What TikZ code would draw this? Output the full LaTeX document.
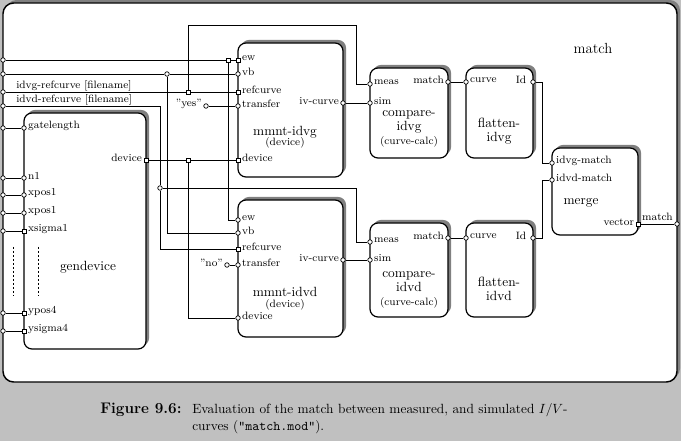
\documentclass[tikz,border=0pt]{standalone}
\usetikzlibrary{fit,shadows}
\definecolor{bggray}{HTML}{C0C0C0}
\definecolor{shadowgray}{HTML}{808080}

\begin{document}
\begin{tikzpicture}[x=0.75pt, y=-0.75pt,
    block/.style={draw, line width=0.9pt, rounded corners=6pt, fill=white, inner sep=0pt,
      drop shadow={shadow xshift=2.3pt, shadow yshift=2.3pt, fill=shadowgray, opacity=1}},
    cport/.style={circle, draw, fill=white, line width=0.5pt, inner sep=0pt, minimum size=3.4pt},
    sqport/.style={rectangle, draw, fill=white, line width=0.5pt, inner sep=0pt, minimum size=3.2pt},
    plabel/.style={font=\fontsize{8}{9}\selectfont, inner sep=1pt, yshift=1.6pt},
    wlabel/.style={font=\fontsize{8}{9}\selectfont, inner sep=0pt},
    wire/.style={line width=0.6pt},
    btitle/.style={font=\fontsize{10}{10.5}\selectfont, align=center, inner sep=0pt},
    bsub/.style={font=\fontsize{8}{9}\selectfont, inner sep=0pt}]

  % background and outer module
  \useasboundingbox (0,0) rectangle (681,441);
  \fill[bggray] (0,0) rectangle (681,441);
  \node (matchbox) [block, line width=1.1pt, rounded corners=8pt, fit={(3,3) (677,382)}] {};
  \node (title) [font=\fontsize{11}{13}\selectfont] at (593,48) {match};

  % blocks
  \node (gendev) [block, fit={(24,113) (146,349)}] {};
  \node (mmntg) [block, fit={(238,43) (343,177)}] {};
  \node (mmntd) [block, fit={(238,200) (343,337)}] {};
  \node (cmpg) [block, fit={(370,68) (448,158)}] {};
  \node (cmpd) [block, fit={(370,223) (448,317)}] {};
  \node (flatg) [block, fit={(466,68) (533,158)}] {};
  \node (flatd) [block, fit={(466,223) (533,317)}] {};
  \node (merge) [block, fit={(552,148) (638,235)}] {};

  \node (gendevlab) [font=\fontsize{10}{12}\selectfont] at (88,267) {gendevice};
  \node (mmntglab) [btitle] at (285,132) {mmnt-idvg};
  \node (mmntgsub) [bsub] at (285,143) {(device)};
  \node (mmntdlab) [btitle] at (285,292) {mmnt-idvd};
  \node (mmntdsub) [bsub] at (285,305) {(device)};
  \node (cmpglab) [btitle] at (409,122) {compare-\\idvg};
  \node (cmpgsub) [bsub] at (409,142) {(curve-calc)};
  \node (cmpdlab) [btitle] at (409,282) {compare-\\idvd};
  \node (cmpdsub) [bsub] at (409,303) {(curve-calc)};
  \node (flatglab) [btitle] at (499,131) {flatten-\\idvg};
  \node (flatdlab) [btitle] at (499,289) {flatten-\\idvd};
  \node (mergelab) [font=\fontsize{10}{12}\selectfont] at (581,203) {merge};

  % outer ports
  \node (in_ew) [cport] at (3,60) {};
  \node (in_vb) [cport] at (3,74) {};
  \node (in_gref) [cport] at (3,92) {};
  \node (in_dref) [cport] at (3,106) {};
  \node (in_gl) [cport] at (3,128) {};
  \node (in_n1) [cport] at (3,178) {};
  \node (in_xa) [cport] at (3,195) {};
  \node (in_xb) [cport] at (3,213) {};
  \node (in_xs) [cport] at (3,231) {};
  \node (in_yp) [cport] at (3,313) {};
  \node (in_ys) [cport] at (3,331) {};
  \node (out_match) [cport] at (677,224) {};
  \node (greflab) [wlabel, anchor=base west] at (16,89) {idvg-refcurve [filename]};
  \node (dreflab) [wlabel, anchor=base west] at (16,103) {idvd-refcurve [filename]};

  % gendevice ports
  \node (gd_gl) [cport, label={[plabel]right:gatelength}] at (24,128) {};
  \node (gd_n1) [cport, label={[plabel]right:n1}] at (24,178) {};
  \node (gd_xa) [cport, label={[plabel]right:xpos1}] at (24,195) {};
  \node (gd_xb) [cport, label={[plabel]right:xpos1}] at (24,213) {};
  \node (gd_xs) [sqport, label={[plabel]right:xsigma1}] at (24,231) {};
  \node (gd_yp) [sqport, label={[plabel]right:ypos4}] at (24,313) {};
  \node (gd_ys) [sqport, label={[plabel]right:ysigma4}] at (24,331) {};
  \node (gd_dev) [sqport, label={[plabel]left:device}] at (146,160) {};

  % mmnt-idvg ports
  \node (mg_ew) [sqport, label={[plabel]right:ew}] at (238,60) {};
  \node (mg_vb) [cport, label={[plabel]right:vb}] at (238,74) {};
  \node (mg_ref) [sqport, label={[plabel]right:refcurve}] at (238,92) {};
  \node (mg_tr) [cport, label={[plabel]right:transfer}] at (238,106) {};
  \node (mg_dev) [sqport, label={[plabel]right:device}] at (238,160) {};
  \node (mg_iv) [cport, label={[plabel]left:iv-curve}] at (343,103) {};

  % mmnt-idvd ports
  \node (md_ew) [cport, label={[plabel]right:ew}] at (238,220) {};
  \node (md_vb) [cport, label={[plabel]right:vb}] at (238,233) {};
  \node (md_ref) [sqport, label={[plabel]right:refcurve}] at (238,249) {};
  \node (md_tr) [cport, label={[plabel]right:transfer}] at (238,265) {};
  \node (md_dev) [cport, label={[plabel]right:device}] at (238,318) {};
  \node (md_iv) [cport, label={[plabel]left:iv-curve}] at (343,260) {};

  % compare and flatten ports
  \node (cg_meas) [cport, label={[plabel]right:meas}] at (370,84) {};
  \node (cg_sim) [cport, label={[plabel]right:sim}] at (370,103) {};
  \node (cg_match) [cport, label={[plabel]left:match}] at (448,82) {};
  \node (fg_curve) [cport, label={[plabel]right:curve}] at (466,82) {};
  \node (fg_id) [cport, label={[plabel, xshift=-2pt]left:Id}] at (533,82) {};
  \node (cd_meas) [cport, label={[plabel]right:meas}] at (370,242) {};
  \node (cd_sim) [cport, label={[plabel]right:sim}] at (370,260) {};
  \node (cd_match) [cport, label={[plabel]left:match}] at (448,238) {};
  \node (fd_curve) [cport, label={[plabel]right:curve}] at (466,238) {};
  \node (fd_id) [cport, label={[plabel, xshift=-2pt]left:Id}] at (533,238) {};

  % merge ports
  \node (mr_g) [cport, label={[plabel]right:idvg-match}] at (552,163) {};
  \node (mr_d) [cport, label={[plabel]right:idvd-match}] at (552,180) {};
  \node (mr_vec) [sqport, label={[plabel]left:vector}] at (638,224) {};

  % junctions and constants
  \node (j_ew) [sqport] at (228,60) {};
  \node (j_vb) [cport] at (167,74) {};
  \node (j_gref) [sqport] at (188,92) {};
  \node (j_dev) [sqport] at (188,160) {};
  \node (j_dref) [cport] at (160,188) {};
  \node (yesval) [cport, label={[plabel]left:"yes"}] at (206,106) {};
  \node (noval) [cport, label={[plabel]left:"no"}] at (227,265) {};
  \coordinate (gbend) at (356,25);
  \coordinate (dbend) at (356,188);
  \coordinate (gmid) at (542,163);
  \coordinate (dmid) at (542,180);

  % wires
  \draw[wire] (in_ew) -- (j_ew) -- (mg_ew);
  \draw[wire] (j_ew) |- (md_ew);
  \draw[wire] (in_vb) -- (j_vb) -- (mg_vb);
  \draw[wire] (j_vb) |- (md_vb);
  \draw[wire] (in_gref) -- (j_gref) -- (mg_ref);
  \draw[wire] (j_gref) |- (gbend) |- (cg_meas);
  \draw[wire] (in_dref) -| (j_dref) |- (md_ref);
  \draw[wire] (j_dref) -- (dbend) |- (cd_meas);
  \draw[wire] (in_gl) -- (gd_gl);
  \draw[wire] (in_n1) -- (gd_n1);
  \draw[wire] (in_xa) -- (gd_xa);
  \draw[wire] (in_xb) -- (gd_xb);
  \draw[wire] (in_xs) -- (gd_xs);
  \draw[wire] (in_yp) -- (gd_yp);
  \draw[wire] (in_ys) -- (gd_ys);
  \draw[wire] (gd_dev) -- (j_dev) -- (mg_dev);
  \draw[wire] (j_dev) |- (md_dev);
  \draw[wire] (yesval) -- (mg_tr);
  \draw[wire] (noval) -- (md_tr);
  \draw[wire] (mg_iv) -- (cg_sim);
  \draw[wire] (md_iv) -- (cd_sim);
  \draw[wire] (cg_match) -- (fg_curve);
  \draw[wire] (cd_match) -- (fd_curve);
  \draw[wire] (fg_id) -| (gmid) -- (mr_g);
  \draw[wire] (fd_id) -| (dmid) -- (mr_d);
  \draw[wire] (mr_vec) -- node[plabel, above] (outlab) {match} (out_match);

  % elided inputs
  \draw[dash pattern=on 1.5pt off 1.5pt, line width=0.5pt] (13,247) -- (13,296);
  \draw[dash pattern=on 1.5pt off 1.5pt, line width=0.5pt] (38,247) -- (38,296);

  % caption
  \node (capnum) [anchor=base west, inner sep=0pt, font=\fontsize{11.5}{13}\selectfont\bfseries] at (100,413) {Figure 9.6:};
  \node (capline1) [anchor=base west, inner sep=0pt, font=\fontsize{10}{12}\selectfont] at (192,413) {Evaluation of the match between measured, and simulated $I/V$-};
  \node (capline2) [anchor=base west, inner sep=0pt, font=\fontsize{10}{12}\selectfont] at (192,430) {curves (\texttt{"match.mod"}).};
\end{tikzpicture}
\end{document}
